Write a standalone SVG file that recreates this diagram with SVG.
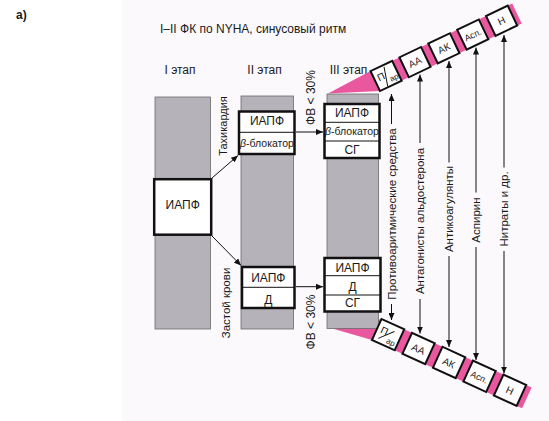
<svg xmlns="http://www.w3.org/2000/svg" width="549" height="421" viewBox="0 0 549 421">
<style>
text{font-family:"Liberation Sans",Arial,sans-serif;fill:#1a1a1a}
.bar{fill:#b5b2b9;stroke:#6a6a6a;stroke-width:0.8}
.box{fill:#fff;stroke:#111;stroke-width:2.5}
.dv{stroke:#111;stroke-width:1}
.t12{font-size:12px}
.bt{font-size:12px;text-anchor:middle}
.bb{font-size:10.5px;text-anchor:middle}
.lbl{font-size:11.5px;text-anchor:middle}
.ln{stroke:#111;stroke-width:1;fill:none}
.arr{stroke:#111;stroke-width:1;fill:none;marker-end:url(#ah)}
.pink{fill:#e9579f}
.sb{fill:#fff;stroke:#111;stroke-width:2}
.st{font-size:10px;text-anchor:middle}
</style>
<defs>
<marker id="ah" markerWidth="7" markerHeight="6" refX="7" refY="3" orient="auto" markerUnits="userSpaceOnUse"><path d="M0,0 L7,3 L0,6 z" fill="#111"/></marker>
</defs>
<rect width="549" height="421" fill="#fff"/>
<rect x="122" y="0" width="427" height="421" fill="#fcf9fc"/>
<text x="16" y="19" style="font-size:12px;font-weight:bold">а)</text>
<text x="160" y="33" class="t12">I–II ФК по NYHA, синусовый ритм</text>
<text x="180" y="74" class="bt">I этап</text>
<text x="264.5" y="74" class="bt">II этап</text>
<text x="348.5" y="74" class="bt">III этап</text>

<!-- pink wedges -->
<polygon class="pink" points="328,93.5 370.5,71.1 380,91"/>
<polygon class="pink" points="334,329 381.5,319 372,339.9"/>

<!-- gray bars -->
<rect class="bar" x="155" y="97" width="55.5" height="232"/>
<rect class="bar" x="241" y="96" width="52.5" height="233"/>
<rect class="bar" x="327" y="94" width="51.5" height="234.5"/>

<g id="stage1">
<rect class="box" x="154.2" y="179.2" width="57" height="55.5" stroke-width="3"/>
<text x="182.7" y="209" class="bt">ИАПФ</text>
</g>

<g id="stage2-top">
<rect class="box" x="239" y="111.5" width="55.5" height="42.5"/>
<line class="dv" x1="239" y1="132.3" x2="294.5" y2="132.3"/>
<text x="267" y="125" class="bt">ИАПФ</text>
<text x="267" y="146.5" class="bb"><tspan font-style="italic">β</tspan>-блокатор</text>
</g>

<g id="stage2-bottom">
<rect class="box" x="242" y="267" width="52.5" height="41"/>
<line class="dv" x1="242" y1="287.3" x2="294.5" y2="287.3"/>
<text x="268.3" y="282" class="bt">ИАПФ</text>
<text x="268.3" y="303.5" class="bt">Д</text>
</g>

<g id="stage3-top">
<rect class="box" x="324.5" y="104" width="55" height="54"/>
<line class="dv" x1="324.5" y1="122.3" x2="379.5" y2="122.3"/>
<line class="dv" x1="324.5" y1="141" x2="379.5" y2="141"/>
<text x="352" y="117" class="bt">ИАПФ</text>
<text x="352" y="134.5" class="bb"><tspan font-style="italic">β</tspan>-блокатор</text>
<text x="352" y="153.6" class="bt">СГ</text>
</g>

<g id="stage3-bottom">
<rect class="box" x="324.5" y="258" width="56" height="53.5"/>
<line class="dv" x1="324.5" y1="275.7" x2="380.5" y2="275.7"/>
<line class="dv" x1="324.5" y1="295" x2="380.5" y2="295"/>
<text x="352.5" y="272" class="bt">ИАПФ</text>
<text x="352.5" y="290.5" class="bt">Д</text>
<text x="352.5" y="306.6" class="bt">СГ</text>
</g>

<g id="strip-top" transform="translate(380,91) rotate(-25.5)">
<rect class="pink" x="0" y="-22" width="157" height="22"/>
<g id="t-par"><rect class="sb" x="0" y="-22" width="24" height="22"/><text x="7" y="-9" font-size="10" text-anchor="middle">П</text><line class="ln" x1="9" y1="-1" x2="14" y2="-20"/><text x="18.5" y="-3.5" font-size="8" text-anchor="middle">ар</text></g>
<g id="t-aa"><rect class="sb" x="32" y="-22" width="24" height="22"/><text x="44" y="-7.5" class="st">АА</text></g>
<g id="t-ak"><rect class="sb" x="64" y="-22" width="24" height="22"/><text x="76" y="-7.5" class="st">АК</text></g>
<g id="t-asp"><rect class="sb" x="96" y="-22" width="24" height="22"/><text x="108" y="-7.5" font-size="9" text-anchor="middle">Асп.</text></g>
<g id="t-n"><rect class="sb" x="128" y="-22" width="24" height="22"/><text x="140" y="-7.5" class="st">Н</text></g>
</g>

<g id="strip-bottom" transform="translate(381.5,319) rotate(24.5)">
<rect class="pink" x="0" y="0" width="165" height="23"/>
<g id="b-par"><rect class="sb" x="0" y="0" width="25" height="23"/><text x="7.5" y="13" font-size="10" text-anchor="middle">П</text><line class="ln" x1="5" y1="19" x2="17" y2="6"/><text x="18" y="20" font-size="8" text-anchor="middle">ар</text></g>
<g id="b-aa"><rect class="sb" x="33.5" y="0" width="25" height="23"/><text x="46" y="15.5" class="st">АА</text></g>
<g id="b-ak"><rect class="sb" x="67" y="0" width="25" height="23"/><text x="79.5" y="15.5" class="st">АК</text></g>
<g id="b-asp"><rect class="sb" x="100.5" y="0" width="25" height="23"/><text x="113" y="15.5" font-size="9" text-anchor="middle">Асп.</text></g>
<g id="b-n"><rect class="sb" x="134" y="0" width="25" height="23"/><text x="146.5" y="15.5" class="st">Н</text></g>
</g>

<g id="connectors">
<line class="arr" x1="212" y1="178" x2="238" y2="155.5"/>
<line class="arr" x1="212" y1="236" x2="241" y2="265.5"/>
<line class="arr" x1="296" y1="132" x2="323" y2="132"/>
<line class="arr" x1="296" y1="286.7" x2="323" y2="286.7"/>
<line class="arr" x1="391.5" y1="124" x2="391.5" y2="94"/>
<line class="arr" x1="391.5" y1="304" x2="391.5" y2="320"/>
<line class="arr" x1="420" y1="143" x2="420" y2="74.5"/>
<line class="arr" x1="420" y1="299" x2="420" y2="333.5"/>
<line class="arr" x1="449" y1="162.5" x2="449" y2="61"/>
<line class="arr" x1="449" y1="256" x2="449" y2="347"/>
<line class="arr" x1="476" y1="192.5" x2="476" y2="47.5"/>
<line class="arr" x1="476" y1="247" x2="476" y2="360"/>
<line class="arr" x1="504" y1="167.5" x2="504" y2="35"/>
<line class="arr" x1="504" y1="251" x2="504" y2="373.5"/>
</g>

<g id="labels">
<text transform="translate(227,126) rotate(-90)" style="font-size:11px;text-anchor:middle">Тахикардия</text>
<text transform="translate(230,303) rotate(-90)" class="lbl">Застой крови</text>
<text transform="translate(314.5,97.5) rotate(-90)" class="bt">ФВ &lt; 30%</text>
<text transform="translate(314.5,322) rotate(-90)" class="bt">ФВ &lt; 30%</text>
<text transform="translate(395.5,214) rotate(-90)" class="lbl">Противоаритмические средства</text>
<text transform="translate(424,221) rotate(-90)" class="lbl">Антагонисты альдостерона</text>
<text transform="translate(453,209) rotate(-90)" class="lbl">Антикоагулянты</text>
<text transform="translate(480,220) rotate(-90)" class="lbl">Аспирин</text>
<text transform="translate(508,209) rotate(-90)" class="lbl">Нитраты и др.</text>
</g>
</svg>
